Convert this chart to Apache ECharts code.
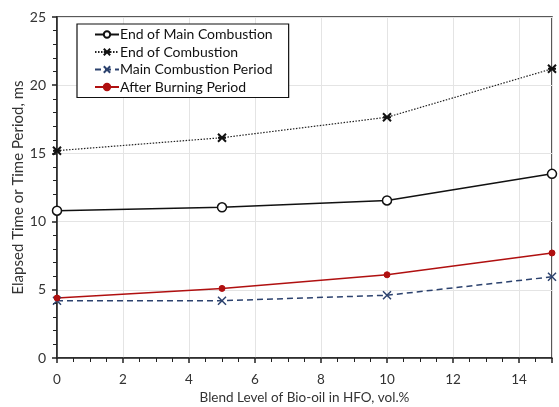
<!DOCTYPE html>
<html>
<head>
<meta charset="utf-8">
<script src="https://cdn.jsdelivr.net/npm/echarts@6/dist/echarts.min.js"></script>
<style>
  html, body { margin: 0; padding: 0; background: #fff; }
  #chart { width: 559px; height: 407px; }
</style>
</head>
<body>
<div id="chart"></div>
<script>
var blendLevels = [0, 5, 10, 15];
var endMainCombustion = [10.8, 11.05, 11.55, 13.5];
var endCombustion = [15.2, 16.15, 17.65, 21.2];
var mainCombustionPeriod = [4.2, 4.2, 4.6, 5.95];
var afterBurningPeriod = [4.4, 5.1, 6.1, 7.7];
var seriesNames = ['End of Main Combustion', 'End of Combustion', 'Main Combustion Period', 'After Burning Period'];

var font = 'Lato, "Open Sans", sans-serif';
var xSym = 'path://M0,0L10,10M10,0L0,10';
var starSym = 'path://M0,0L10,10M10,0L0,10M0,5L10,5';

function pairs(vals) {
  return blendLevels.map(function (x, i) { return [x, vals[i]]; });
}

var chart = echarts.init(document.getElementById('chart'));

var option = {
  animation: false,
  backgroundColor: '#fff',
  textStyle: { fontFamily: font },
  grid: {
    left: 57, right: 7, top: 17, bottom: 49,
    outerBoundsMode: 'none',
    show: true, borderColor: '#222', borderWidth: 1.5
  },
  legend: {
    left: 77, top: 24,
    orient: 'vertical',
    itemGap: 2.5,
    itemWidth: 24, itemHeight: 8,
    padding: [3, 16, 3, 17],
    borderColor: '#111', borderWidth: 1.2,
    backgroundColor: '#fff',
    textStyle: { fontFamily: font, fontSize: 14, color: '#111', padding: [0, 0, 0, -4], lineHeight: 15 },
    data: seriesNames
  },
  xAxis: [{
    type: 'value', min: 0, max: 15, interval: 2,
    name: 'Blend Level of Bio-oil in HFO, vol.%',
    nameLocation: 'middle', nameGap: 33, nameMoveOverlap: false,
    nameTextStyle: { fontFamily: font, fontSize: 13.5, color: '#333' },
    axisLine: { lineStyle: { color: '#222', width: 1.5 } },
    axisTick: { show: true, inside: false, length: 5, lineStyle: { color: '#222', width: 1.5 } },
    minorTick: { show: true, splitNumber: 4, length: 4, lineStyle: { color: '#222' } },
    axisLabel: { fontFamily: font, fontSize: 13.5, color: '#333', margin: 15,
      formatter: function (v) { return v > 14 ? '' : v; } },
    splitLine: { show: true, lineStyle: { color: '#e4e4e4' } }
  }],
  yAxis: [{
    type: 'value', min: 0, max: 25, interval: 5,
    name: 'Elapsed Time or Time Period, ms',
    nameLocation: 'middle', nameGap: 31, nameMoveOverlap: false,
    nameTextStyle: { fontFamily: font, fontSize: 15, color: '#333' },
    axisLine: { lineStyle: { color: '#222', width: 1.5 } },
    axisTick: { show: true, length: 5, lineStyle: { color: '#222', width: 1.5 } },
    minorTick: { show: true, splitNumber: 5, length: 4, lineStyle: { color: '#222' } },
    axisLabel: { fontFamily: font, fontSize: 14, color: '#333', margin: 11 },
    splitLine: { show: true, lineStyle: { color: '#e4e4e4' } }
  }],
  series: [
    {
      name: seriesNames[0], type: 'line', data: pairs(endMainCombustion),
      symbol: 'circle', symbolSize: 9, showAllSymbol: true,
      lineStyle: { color: '#111', width: 1.5 },
      itemStyle: { color: '#fff', borderColor: '#111', borderWidth: 1.5 },
      z: 3
    },
    {
      name: seriesNames[1], type: 'line', data: pairs(endCombustion),
      symbol: starSym, symbolSize: 8,
      lineStyle: { color: '#222', width: 1.2, type: [1.5, 1.5] },
      itemStyle: { color: '#111', borderColor: '#111', borderWidth: 2 },
      z: 3
    },
    {
      name: seriesNames[2], type: 'line', data: pairs(mainCombustionPeriod),
      symbol: xSym, symbolSize: 8,
      lineStyle: { color: '#2c426e', width: 1.5, type: [6, 4] },
      itemStyle: { color: '#2c426e', borderColor: '#2c426e', borderWidth: 1.5 },
      z: 3
    },
    {
      name: seriesNames[3], type: 'line', data: pairs(afterBurningPeriod),
      symbol: 'circle', symbolSize: 6,
      lineStyle: { color: '#b01010', width: 1.5 },
      itemStyle: { color: '#b01010', borderColor: '#b01010', borderWidth: 1 },
      z: 3
    }
  ]
};

chart.setOption(option);
</script>
</body>
</html>
